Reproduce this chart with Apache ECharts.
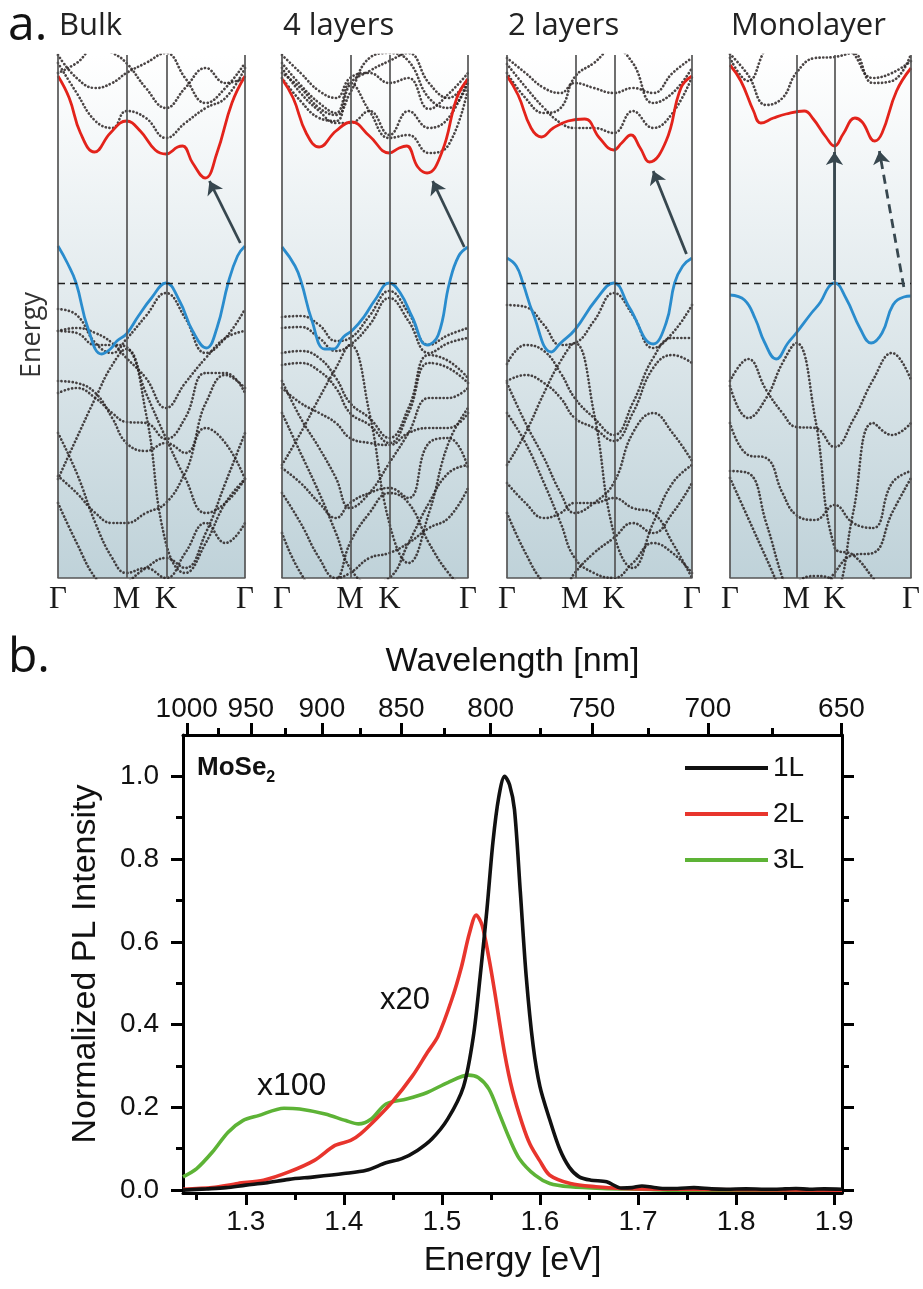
<!DOCTYPE html>
<html>
<head>
<meta charset="utf-8">
<script src="https://cdn.jsdelivr.net/npm/echarts@6/dist/echarts.min.js"></script>
<style>
  html, body { margin: 0; background: #fff; }
  #chart { width: 923px; height: 1289px; }
</style>
</head>
<body>
<div id="chart"></div>
<script>
// ---- part a: band structures (k as fraction of the Γ-M-K-Γ path, energy in eV, VBM = 0)
const panelNames = ['Bulk', '4 layers', '2 layers', 'Monolayer']
const kTicks = [0, 0.366, 0.577, 1]
const kNames = ['Γ', 'M', 'K', 'Γ']
const kPath = [0, 0.1, 0.2, 0.29, 0.366, 0.47, 0.577, 0.68, 0.79, 0.895, 1.0]

const bulkCB = [[0,2.07],[0.06,1.85],[0.12,1.5],[0.195,1.31],[0.28,1.5],[0.366,1.62],[0.44,1.52],[0.52,1.33],[0.577,1.29],[0.64,1.36],[0.667,1.37],[0.72,1.2],[0.787,1.05],[0.85,1.3],[0.93,1.8],[1,2.07]]
const bulkVB = [[0,0.37],[0.05,0.2],[0.097,0],[0.16,-0.45],[0.234,-0.71],[0.28,-0.66],[0.315,-0.58],[0.366,-0.51],[0.43,-0.33],[0.5,-0.15],[0.577,0],[0.65,-0.18],[0.72,-0.48],[0.793,-0.65],[0.85,-0.45],[0.91,0],[0.96,0.27],[1,0.37]]
const fourCB = [[0,2.04],[0.06,1.85],[0.13,1.5],[0.2,1.36],[0.29,1.52],[0.375,1.61],[0.47,1.47],[0.577,1.3],[0.63,1.35],[0.67,1.37],[0.73,1.16],[0.78,1.1],[0.86,1.31],[0.94,1.85],[1,2.04]]
const fourVB = [[0,0.36],[0.07,0.17],[0.105,0],[0.16,-0.37],[0.23,-0.66],[0.276,-0.66],[0.33,-0.54],[0.38,-0.47],[0.44,-0.34],[0.5,-0.17],[0.577,0],[0.636,-0.1],[0.7,-0.34],[0.78,-0.62],[0.84,-0.52],[0.9,0],[0.95,0.27],[1,0.36]]
const twoCB = [[0,2.07],[0.06,1.88],[0.13,1.55],[0.186,1.46],[0.25,1.55],[0.33,1.62],[0.42,1.64],[0.5,1.45],[0.577,1.33],[0.62,1.4],[0.67,1.48],[0.72,1.35],[0.77,1.21],[0.86,1.42],[0.94,1.95],[1,2.07]]
const twoVB = [[0,0.25],[0.05,0.17],[0.086,0],[0.14,-0.3],[0.24,-0.69],[0.29,-0.6],[0.366,-0.47],[0.48,-0.17],[0.577,0],[0.66,-0.24],[0.79,-0.61],[0.86,-0.4],[0.906,0],[0.95,0.17],[1,0.25]]
const monoCB = [[0,2.18],[0.06,2.02],[0.13,1.72],[0.17,1.6],[0.24,1.65],[0.31,1.69],[0.41,1.72],[0.46,1.64],[0.53,1.46],[0.577,1.37],[0.625,1.49],[0.69,1.65],[0.73,1.61],[0.8,1.42],[0.84,1.5],[0.92,1.92],[1,2.15]]
const monoVB = [[0,-0.12],[0.08,-0.17],[0.14,-0.36],[0.19,-0.59],[0.255,-0.76],[0.32,-0.6],[0.366,-0.5],[0.45,-0.3],[0.5,-0.19],[0.545,-0.04],[0.577,0],[0.64,-0.15],[0.72,-0.46],[0.78,-0.6],[0.84,-0.5],[0.9,-0.22],[0.96,-0.14],[1,-0.13]]

// dotted bands, one value per kPath point
const bulkDots = [
  [2.2,1.9,1.62,1.55,1.72,1.65,1.45,1.6,1.75,1.85,2.15],
  [2.28,2.05,1.95,2.0,2.1,2.2,2.3,2.05,1.8,1.95,2.2],
  [2.1,2.2,2.35,2.3,2.2,1.95,1.75,1.95,2.15,2.0,2.05],
  [-0.26,-0.32,-0.6,-0.7,-0.56,-0.33,-0.1,-0.35,-0.7,-0.55,-0.26],
  [-0.48,-0.5,-0.62,-0.62,-0.64,-1.3,-2.6,-2.9,-2.6,-2.2,-1.96],
  [-0.98,-1.0,-1.1,-1.35,-1.6,-1.68,-1.6,-1.7,-1.2,-0.92,-1.05],
  [-1.1,-1.05,-1.15,-1.3,-1.39,-1.4,-1.56,-1.35,-0.9,-0.9,-1.1],
  [-1.96,-1.55,-1.15,-0.82,-0.66,-1.1,-1.55,-1.95,-2.3,-2.2,-1.96],
  [-1.93,-2.1,-2.3,-2.4,-2.4,-2.3,-2.2,-1.9,-1.45,-1.6,-1.96],
  [-2.2,-2.6,-2.95,-3.1,-3.0,-2.85,-2.75,-2.85,-2.5,-2.0,-1.5],
  [-1.5,-1.9,-2.4,-2.75,-2.9,-2.85,-2.95,-2.7,-2.4,-2.6,-2.4],
  [-0.48,-0.45,-0.5,-0.6,-0.75,-0.95,-1.25,-1.0,-0.75,-0.55,-0.48]
]
const fourDots = [
  [2.15,1.9,1.72,1.6,1.6,1.72,1.48,1.72,1.55,1.65,2.04],
  [2.05,1.82,1.65,1.62,1.99,2.12,2.22,2.3,2.0,1.85,2.05],
  [2.2,1.98,1.8,1.7,2.0,1.72,1.45,1.48,1.3,1.38,1.95],
  [2.28,2.1,1.92,1.85,2.05,2.1,2.0,2.05,1.74,1.89,2.1],
  [2.1,1.95,1.75,1.68,1.9,2.25,2.3,2.22,1.85,1.75,2.0],
  [-0.34,-0.33,-0.42,-0.58,-0.55,-0.33,-0.08,-0.3,-0.62,-0.52,-0.45],
  [-0.45,-0.44,-0.55,-0.68,-0.62,-0.42,-0.15,-0.38,-0.7,-0.6,-0.55],
  [-0.7,-0.68,-0.75,-0.95,-1.2,-1.35,-1.55,-1.25,-0.72,-0.78,-0.95],
  [-0.82,-0.8,-0.88,-1.05,-1.3,-1.42,-1.6,-1.3,-0.8,-0.85,-1.0],
  [-0.98,-1.35,-1.65,-1.95,-2.25,-2.1,-1.8,-1.5,-1.15,-1.15,-1.05],
  [-1.82,-1.5,-1.15,-0.85,-0.62,-1.3,-2.4,-2.8,-2.3,-1.6,-1.25],
  [-1.05,-1.2,-1.3,-1.4,-1.55,-1.6,-1.62,-1.5,-1.45,-1.45,-1.3],
  [-1.85,-2.0,-2.2,-2.35,-2.2,-2.1,-2.05,-2.15,-1.6,-1.55,-1.85],
  [-2.1,-2.4,-2.75,-2.95,-2.9,-2.75,-2.7,-2.6,-2.45,-2.35,-2.05],
  [-2.5,-2.9,-3.1,-3.0,-2.6,-2.3,-2.1,-2.2,-2.6,-2.9,-3.1],
  [-1.3,-1.7,-2.1,-2.5,-2.85,-3.0,-2.95,-2.6,-2.2,-1.9,-1.82]
]
const twoDots = [
  [2.19,1.96,1.75,1.6,1.55,1.55,1.5,1.72,1.55,1.7,2.06],
  [2.1,1.85,1.7,1.75,2.06,2.2,2.35,2.2,1.8,1.9,2.15],
  [2.25,2.1,1.95,1.9,2.0,1.95,1.9,1.95,1.9,2.1,2.25],
  [-0.22,-0.24,-0.42,-0.62,-0.6,-0.38,-0.1,-0.32,-0.65,-0.5,-0.22],
  [-0.81,-0.62,-0.68,-0.9,-1.15,-1.35,-1.52,-1.2,-0.75,-0.55,-0.55],
  [-0.98,-0.92,-1.0,-1.15,-1.35,-1.45,-1.58,-1.3,-0.85,-0.72,-0.8],
  [-1.0,-1.4,-1.75,-2.1,-2.3,-2.2,-2.0,-1.5,-1.3,-1.5,-1.78],
  [-1.82,-1.5,-1.1,-0.78,-0.6,-1.3,-2.5,-2.85,-2.4,-2.0,-1.82],
  [-2.0,-2.2,-2.35,-2.3,-2.2,-2.2,-2.15,-2.25,-2.3,-2.6,-2.95],
  [-2.3,-2.7,-3.0,-3.1,-2.9,-2.7,-2.55,-2.4,-2.5,-2.3,-2.0],
  [-1.3,-1.6,-2.0,-2.4,-2.75,-2.9,-2.95,-2.8,-2.6,-2.7,-2.9]
]
const monoDots = [
  [2.29,2.08,1.78,1.85,2.1,2.25,2.26,2.3,2.0,2.02,2.29],
  [2.25,2.02,2.35,2.5,2.5,2.5,2.5,2.3,2.05,2.1,2.22],
  [-0.98,-0.76,-1.07,-1.3,-1.44,-1.45,-1.64,-1.37,-0.97,-0.7,-0.97],
  [-1.03,-1.35,-1.15,-0.8,-0.6,-1.35,-2.64,-2.72,-2.95,-3.2,-3.3],
  [-1.4,-1.72,-1.75,-2.1,-2.32,-2.37,-2.22,-2.4,-2.45,-2.0,-1.88],
  [-1.88,-1.9,-2.4,-2.95,-3.3,-3.3,-3.2,-2.3,-1.4,-1.52,-1.4],
  [-1.95,-2.35,-2.75,-3.1,-3.3,-3.2,-2.9,-2.72,-2.7,-2.3,-1.95],
  [-3.3,-3.3,-3.3,-3.2,-3.0,-2.93,-2.98,-3.2,-3.3,-3.3,-3.3]
]
// transition arrows: [tail, head]
const arrowSolid = [
  [[0.975,0.40],[0.81,1.02]],
  [[0.98,0.36],[0.81,1.02]],
  [[0.97,0.29],[0.79,1.12]],
  [[0.577,0.03],[0.577,1.31]]
]
const arrowDashed = [[0.96,-0.04],[0.825,1.32]]

// ---- part b: PL spectra
const energy1L = [1.236,1.26,1.28,1.30,1.32,1.344,1.37,1.40,1.423,1.443,1.459,1.475,1.49,1.506,1.522,1.532,1.539,1.546,1.552,1.558,1.564,1.569,1.574,1.58,1.586,1.593,1.60,1.61,1.62,1.63,1.64,1.652,1.668,1.683,1.694,1.704,1.715,1.725,1.74,1.757,1.775,1.79,1.81,1.83,1.85,1.861,1.875,1.89,1.908]
const int1L = [0.0,0.003,0.006,0.012,0.017,0.026,0.032,0.04,0.048,0.066,0.076,0.096,0.124,0.172,0.25,0.37,0.516,0.68,0.84,0.95,1.0,0.98,0.92,0.72,0.516,0.35,0.25,0.17,0.1,0.055,0.032,0.024,0.02,0.005,0.006,0.01,0.007,0.004,0.004,0.006,0.003,0.002,0.003,0.002,0.003,0.004,0.002,0.003,0.002]
const energy2L = [1.236,1.266,1.292,1.318,1.344,1.37,1.391,1.407,1.417,1.433,1.449,1.47,1.485,1.496,1.51,1.52,1.528,1.535,1.541,1.548,1.554,1.564,1.572,1.582,1.59,1.60,1.61,1.631,1.657,1.683,1.74,1.80,1.908]
const int2L = [0.002,0.006,0.016,0.024,0.044,0.072,0.108,0.12,0.136,0.172,0.212,0.276,0.332,0.372,0.46,0.54,0.62,0.665,0.64,0.56,0.477,0.33,0.24,0.16,0.11,0.07,0.036,0.016,0.008,0.004,0.002,0.001,0.0]
const energy3L = [1.236,1.25,1.266,1.282,1.297,1.313,1.339,1.355,1.381,1.402,1.415,1.428,1.443,1.464,1.485,1.506,1.527,1.537,1.548,1.558,1.569,1.579,1.595,1.61,1.631,1.663,1.704,1.74,1.908]
const int3L = [0.032,0.052,0.092,0.14,0.168,0.18,0.198,0.196,0.184,0.168,0.16,0.172,0.208,0.22,0.236,0.26,0.278,0.272,0.244,0.188,0.124,0.076,0.036,0.016,0.008,0.004,0.002,0.0,0.0]

const energyTicks = [1.3, 1.4, 1.5, 1.6, 1.7, 1.8, 1.9]
const energyMinor = [1.25, 1.35, 1.45, 1.55, 1.65, 1.75, 1.85]
const wavelengthTicks = [1000, 950, 900, 850, 800, 750, 700, 650]
const wavelengthMinor = [975, 925, 875, 825, 775, 725, 675]
const intensityTicks = [0, 0.2, 0.4, 0.6, 0.8, 1.0]
const intensityMinor = [0.1, 0.3, 0.5, 0.7, 0.9]
const hc = 1239.84

// ---- layout / style
const fontSans = "'Liberation Sans',Arial,sans-serif"
const fontTitle = "'Open Sans','Noto Sans',sans-serif"
const fontSerif = "'Liberation Serif','DejaVu Serif',serif"
const panelLeft = [58, 282, 507, 730]
const panelWidth = [187, 186, 185, 186]
const panelBg = {
    type: 'linear', x: 0, y: 0, x2: 0, y2: 1,
    colorStops: [
        { offset: 0, color: '#ffffff' },
        { offset: 0.45, color: '#e3ebee' },
        { offset: 1, color: '#bfd2d9' }
    ]
}
const nearestTick = v => {
    let best = 0
    kTicks.forEach((t, i) => { if (Math.abs(t - v) < Math.abs(kTicks[best] - v)) best = i })
    return kNames[best]
}

const panelCB = [bulkCB, fourCB, twoCB, monoCB]
const panelVB = [bulkVB, fourVB, twoVB, monoVB]
const panelDots = [bulkDots, fourDots, twoDots, monoDots]

const grid = [], xAxis = [], yAxis = [], series = []
const title = [
    { text: 'a.', left: 8, top: 2, padding: 0, textStyle: { fontFamily: fontTitle, fontSize: 48, fontWeight: 'normal', color: '#111' } },
    { text: 'b.', left: 8, top: 634, padding: 0, textStyle: { fontFamily: fontTitle, fontSize: 48, fontWeight: 'normal', color: '#111' } }
]

panelNames.forEach((name, i) => {
    grid.push({ left: panelLeft[i], top: 55, width: panelWidth[i], height: 523, show: true, borderWidth: 0, backgroundColor: panelBg })
    xAxis.push({
        gridIndex: i, type: 'value', min: 0, max: 1,
        axisLine: { onZero: false, lineStyle: { color: '#555', width: 1.5 } },
        axisTick: { show: false },
        splitLine: { show: false },
        axisLabel: { customValues: kTicks, formatter: nearestTick, margin: 6, fontFamily: fontSerif, fontSize: 31, color: '#1a1a1a' }
    })
    yAxis.push({ gridIndex: i, type: 'value', min: -2.95, max: 2.28, show: false })
    title.push({ text: name, left: panelLeft[i] + 1, top: 11, padding: 0, textStyle: { fontFamily: fontTitle, fontSize: 31, fontWeight: 'normal', color: '#222' } })

    panelDots[i].forEach((band, j) => {
        const s = {
            type: 'line', xAxisIndex: i, yAxisIndex: i, silent: true, showSymbol: false, smooth: 0.45, z: 2,
            data: kPath.map((k, n) => [k, band[n]]),
            lineStyle: { color: '#2c2424', width: 2.7, type: [0.1, 3.6], cap: 'round', opacity: 0.85 }
        }
        if (j === 0) {
            s.markLine = {
                silent: true, symbol: 'none', animation: false,
                label: { show: false },
                lineStyle: { type: 'solid', color: '#555', width: 1.7 },
                data: [
                    { xAxis: 0 }, { xAxis: kTicks[1] }, { xAxis: kTicks[2] }, { xAxis: 1 },
                    { yAxis: 0, lineStyle: { type: [7, 5], color: '#1e1e1e', width: 1.3 } }
                ]
            }
        }
        series.push(s)
    })
    series.push({
        type: 'line', xAxisIndex: i, yAxisIndex: i, silent: true, showSymbol: false, smooth: 0.45, z: 4,
        data: panelCB[i], lineStyle: { color: '#e3231b', width: 2.8 }
    })
    series.push({
        type: 'line', xAxisIndex: i, yAxisIndex: i, silent: true, showSymbol: false, smooth: 0.45, z: 4,
        data: panelVB[i], lineStyle: { color: '#2a8ccd', width: 2.8 }
    })
    series.push({
        type: 'lines', coordinateSystem: 'cartesian2d', xAxisIndex: i, yAxisIndex: i, z: 5, silent: true,
        symbol: ['none', 'arrow'], symbolSize: 13,
        lineStyle: { color: '#37474f', width: 2.8, opacity: 1, curveness: 0 },
        data: [{ coords: arrowSolid[i] }]
    })
})
series.push({
    type: 'lines', coordinateSystem: 'cartesian2d', xAxisIndex: 3, yAxisIndex: 3, z: 5, silent: true,
    symbol: ['none', 'arrow'], symbolSize: 13,
    lineStyle: { color: '#37474f', width: 2.8, opacity: 1, curveness: 0, type: [9, 6] },
    data: [{ coords: arrowDashed }]
})

// part b axes
const eMin = 1.236, eMax = 1.908
const axisBlack = { onZero: false, lineStyle: { color: '#000', width: 3 } }
const tickMajor = { length: 12, lineStyle: { color: '#000', width: 3 } }
const tickMinor = { length: 7, lineStyle: { color: '#000', width: 3 } }
const labelStyle = { fontFamily: fontSans, fontSize: 28, color: '#111' }
const nameStyle = { fontFamily: fontSans, fontSize: 34, color: '#111' }

grid.push({ left: 183, top: 735, width: 659, height: 458 })
xAxis.push(
    {
        gridIndex: 4, type: 'value', position: 'bottom', min: eMin, max: eMax,
        axisLine: axisBlack, splitLine: { show: false },
        axisTick: { ...tickMajor, customValues: energyTicks },
        axisLabel: { ...labelStyle, customValues: energyTicks, formatter: v => v.toFixed(1), margin: 15 },
        name: 'Energy [eV]', nameLocation: 'middle', nameGap: 51, nameTextStyle: nameStyle
    },
    {
        gridIndex: 4, type: 'value', position: 'bottom', min: eMin, max: eMax,
        axisLine: { show: false, onZero: false }, splitLine: { show: false }, axisLabel: { show: false },
        axisTick: { ...tickMinor, customValues: energyMinor }
    },
    {
        gridIndex: 4, type: 'value', position: 'top', min: eMin, max: eMax,
        axisLine: axisBlack, splitLine: { show: false },
        axisTick: { ...tickMajor, customValues: wavelengthTicks.map(w => hc / w) },
        axisLabel: { ...labelStyle, customValues: wavelengthTicks.map(w => hc / w), formatter: v => String(Math.round(hc / v)), margin: 12 },
        name: 'Wavelength [nm]', nameLocation: 'middle', nameGap: 56, nameTextStyle: nameStyle
    },
    {
        gridIndex: 4, type: 'value', position: 'top', min: eMin, max: eMax,
        axisLine: { show: false, onZero: false }, splitLine: { show: false }, axisLabel: { show: false },
        axisTick: { ...tickMinor, customValues: wavelengthMinor.map(w => hc / w) }
    }
)
yAxis.push(
    {
        gridIndex: 4, type: 'value', position: 'left', min: -0.007, max: 1.1,
        axisLine: axisBlack, splitLine: { show: false },
        axisTick: { ...tickMajor, customValues: intensityTicks },
        axisLabel: { ...labelStyle, customValues: intensityTicks, formatter: v => v.toFixed(1), margin: 24 },
        name: 'Normalized PL Intensity', nameLocation: 'middle', nameGap: 80, nameRotate: 90, nameTextStyle: nameStyle
    },
    {
        gridIndex: 4, type: 'value', position: 'left', min: -0.007, max: 1.1,
        axisLine: { show: false, onZero: false }, splitLine: { show: false }, axisLabel: { show: false },
        axisTick: { ...tickMinor, customValues: intensityMinor }
    },
    {
        gridIndex: 4, type: 'value', position: 'right', min: -0.007, max: 1.1,
        axisLine: axisBlack, splitLine: { show: false }, axisLabel: { show: false },
        axisTick: { ...tickMajor, customValues: intensityTicks }
    },
    {
        gridIndex: 4, type: 'value', position: 'right', min: -0.007, max: 1.1,
        axisLine: { show: false, onZero: false }, splitLine: { show: false }, axisLabel: { show: false },
        axisTick: { ...tickMinor, customValues: intensityMinor }
    }
)

const plSeries = [
    { name: '3L', x: energy3L, y: int3L, color: '#5db336', z: 3 },
    { name: '2L', x: energy2L, y: int2L, color: '#e8352d', z: 4 },
    { name: '1L', x: energy1L, y: int1L, color: '#111111', z: 5 }
]
plSeries.forEach(p => {
    series.push({
        name: p.name, type: 'line', xAxisIndex: 4, yAxisIndex: 4, z: p.z,
        showSymbol: false, smooth: 0.3,
        data: p.x.map((e, i) => [e, p.y[i]]),
        lineStyle: { color: p.color, width: 3.6 },
        itemStyle: { color: p.color }
    })
})

title.push(
    {
        text: '{b|MoSe}{s|2}', left: 197, top: 755, padding: 0,
        textStyle: {
            rich: {
                b: { fontFamily: fontSans, fontWeight: 'bold', fontSize: 26, color: '#111', lineHeight: 27, verticalAlign: 'top' },
                s: { fontFamily: fontSans, fontWeight: 'bold', fontSize: 16, color: '#111', lineHeight: 46 }
            }
        }
    },
    { text: 'x20', left: 380, top: 985, padding: 0, textStyle: { fontFamily: fontSans, fontSize: 31, fontWeight: 'normal', color: '#111' } },
    { text: 'x100', left: 257, top: 1070, padding: 0, textStyle: { fontFamily: fontSans, fontSize: 32, fontWeight: 'normal', color: '#111' } }
)

const chart = echarts.init(document.getElementById('chart'))
chart.setOption({
    animation: false,
    backgroundColor: '#fff',
    title,
    legend: {
        data: ['1L', '2L', '3L'], orient: 'vertical', left: 685, top: 754, padding: 0,
        icon: 'rect', itemWidth: 83, itemHeight: 4, itemGap: 18,
        textStyle: { fontFamily: fontSans, fontSize: 28, color: '#111' }
    },
    graphic: [{
        type: 'text', x: 32, y: 335, rotation: Math.PI / 2,
        style: { text: 'Energy', fill: '#333', font: '27px "Open Sans", "Noto Sans", sans-serif', align: 'center', verticalAlign: 'middle' }
    }],
    grid, xAxis, yAxis, series
})
</script>
</body>
</html>
